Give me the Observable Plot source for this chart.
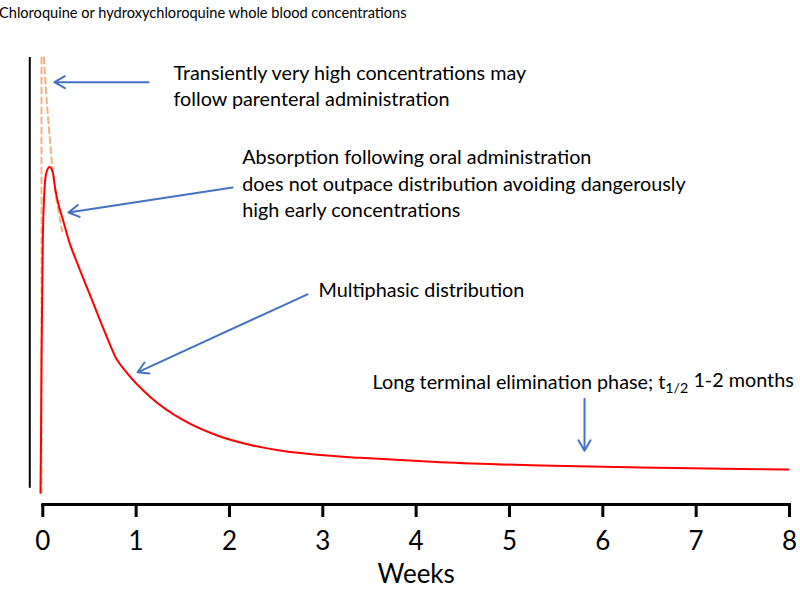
<!DOCTYPE html>
<html>
<head>
<meta charset="utf-8">
<script src="https://cdn.jsdelivr.net/npm/d3@7"></script>
<script src="https://cdn.jsdelivr.net/npm/@observablehq/plot@0.6"></script>
<style>
  html, body { margin: 0; padding: 0; background: #fff; }
  #wrap { width: 800px; height: 589px; overflow: hidden; position: relative; }
  #title { height: 34px; margin-left: -1px; font: 14.6px Lato, sans-serif; line-height: 26px; color: #000; white-space: nowrap; }
  svg { display: block; }
</style>
</head>
<body>
<div id="wrap">
  <div id="title">Chloroquine or hydroxychloroquine whole blood concentrations</div>
  <div id="chart"></div>
</div>
<script>
// Oral administration concentration curve (weeks, arbitrary concentration units)
const curveWeeks = [-0.025, -0.019, -0.014, 0.000, 0.018, 0.036, 0.072, 0.107, 0.136, 0.171, 0.208, 0.279, 0.386, 0.529, 0.672, 0.779, 0.908, 1.154, 1.511, 1.869, 2.225, 2.579, 2.940, 3.404, 4.260, 5.333, 6.404, 7.476, 7.990];
const curveConc  = [-0.5, 12.0, 30.0, 57.7, 69.3, 73.2, 74.7, 73.5, 69.3, 65.8, 63.1, 57.7, 51.6, 43.9, 36.2, 30.8, 27.0, 21.55, 16.17, 12.7, 10.51, 9.12, 8.24, 7.55, 6.54, 5.77, 5.31, 4.97, 4.85];

// Parenteral administration (dashed, goes off the top)
const parenteralRiseWeeks = [-0.014, -0.014];
const parenteralRiseConc  = [100, -0.5];
const parenteralFallWeeks = [0.011, 0.050, 0.101, 0.147, 0.208];
const parenteralFallConc  = [100, 87.8, 74.6, 67.0, 59.8];

// x ticks
const weekTicks = [0, 1, 2, 3, 4, 5, 6, 7, 8];

// Annotations
const annoText = [
  "Transiently very high concentrations may\nfollow parenteral administration",
  "Absorption following oral administration\ndoes not outpace distribution avoiding dangerously\nhigh early concentrations",
  "Multiphasic distribution",
  "Long terminal elimination phase; t_{1/2} 1-2 months"
];
const annoWeek = [1.40, 2.137, 2.954, 3.533];
const annoConc = [93.7, 71.2, 46.65, 25.4];

// Arrows (from -> to)
const arrowWeek1 = [1.133, 2.033, 2.836, 5.804];
const arrowConc1 = [94.3, 70.0, 45.3, 21.2];
const arrowWeek2 = [0.125, 0.275, 1.015, 5.804];
const arrowConc2 = [94.3, 64.2, 27.3, 9.2];

const curve = curveWeeks.map((w, i) => ({week: w, conc: curveConc[i]}));
const parenteral = [
  ...parenteralRiseWeeks.map((w, i) => ({week: w, conc: parenteralRiseConc[i], seg: "rise"})),
  ...parenteralFallWeeks.map((w, i) => ({week: w, conc: parenteralFallConc[i], seg: "fall"}))
];
const annos = annoText.map((t, i) => ({text: t, week: annoWeek[i], conc: annoConc[i]}));
const arrows = arrowWeek1.map((w, i) => ({x1: w, y1: arrowConc1[i], x2: arrowWeek2[i], y2: arrowConc2[i]}));

const H = 555;
const yDomain = [0, 100];
const chart = Plot.plot({
  width: 800,
  height: H,
  marginLeft: 42.3,
  marginRight: 11,
  marginTop: 10,
  marginBottom: 85,
  style: {fontFamily: "Lato, sans-serif", color: "#000", background: "#fff"},
  x: {domain: [0, 8]},
  y: {domain: yDomain, range: [456, 23], axis: null},
  marks: [
    Plot.ruleX([0], {y1: yDomain[0] + 0.5, y2: yDomain[1], dx: -13, stroke: "#000", strokeWidth: 2}),
    Plot.line(parenteral, {x: "week", y: "conc", z: "seg", stroke: "#F4B183", strokeWidth: 2, strokeDasharray: "6,4"}),
    Plot.line(curve, {x: "week", y: "conc", stroke: "#FF0000", strokeWidth: 2, curve: "monotone-x"}),
    Plot.arrow(arrows, {x1: "x1", y1: "y1", x2: "x2", y2: "y2", stroke: "#4472C4", strokeWidth: 2, headLength: 9, headAngle: 60}),
    Plot.text(annos, {x: "week", y: "conc", text: "text", textAnchor: "start", lineAnchor: "middle", lineHeight: 1.33, fontSize: 19.8, fill: "#000"}),
    Plot.frame({anchor: "bottom", stroke: "#000", strokeWidth: 3}),
    Plot.axisX(weekTicks, {tickSize: 13, tickPadding: 14, strokeWidth: 3, fontSize: 26, label: "Weeks", labelAnchor: "center", labelArrow: "none", labelOffset: 78, tickFormat: d => String(d)})
  ]
});
document.getElementById("chart").appendChild(chart);

// Render "t_{1/2}" as a real subscript
d3.select(chart).selectAll("text").each(function() {
  const el = d3.select(this);
  if (this.children.length === 0 && this.textContent.includes("_{1/2}")) {
    const [before, after] = this.textContent.split("_{1/2}");
    el.text(null);
    el.append("tspan").text(before);
    el.append("tspan").attr("font-size", "0.72em").attr("dy", "0.3em").text("1/2");
    el.append("tspan").attr("dy", "-0.3em").text(after);
  }
});
</script>
</body>
</html>
